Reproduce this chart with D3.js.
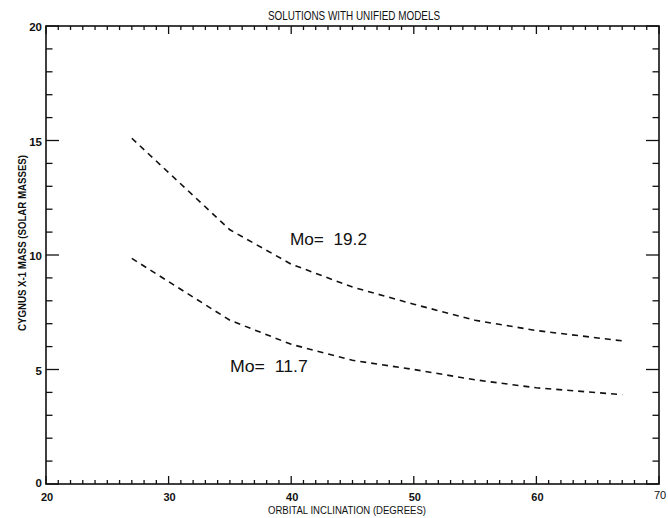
<!DOCTYPE html>
<html><head><meta charset="utf-8">
<script src="https://cdn.jsdelivr.net/npm/d3@7"></script>
<style>body{margin:0;background:#fff}svg{display:block}</style>
</head><body>
<svg id="chart" width="668" height="518"></svg>
<script>
// ---- data ----
const inclination = [27, 35, 40, 45, 50, 55, 60, 67];
const massHigh = [15.1, 11.1, 9.6, 8.6, 7.85, 7.15, 6.7, 6.25];   // Mo = 19.2
const massLow  = [9.85, 7.15, 6.1, 5.4, 5.0, 4.55, 4.2, 3.9];     // Mo = 11.7
const seriesLabels = ["Mo=  19.2", "Mo=  11.7"];
const seriesLabelPos = [[39.9, 10.44], [35.0, 4.87]]; // [inclination, mass] anchor of label text
const xTickLabels = [20, 30, 40, 50, 60, 70];
const yTickLabels = [0, 5, 10, 15, 20];
const title = "SOLUTIONS WITH UNIFIED MODELS";
const xTitle = "ORBITAL INCLINATION (DEGREES)";
const yTitle = "CYGNUS X-1 MASS (SOLAR MASSES)";

const svg = d3.select("#chart");
const L = 46, R = 659, T = 26, B = 484;
const x = d3.scaleLinear().domain([20, 70]).range([L, R]);
const y = d3.scaleLinear().domain([0, 20]).range([B, T]);
const ink = "#111";

// frame
svg.append("rect").attr("x", L).attr("y", T).attr("width", R - L).attr("height", B - T)
  .attr("fill", "none").attr("stroke", ink).attr("stroke-width", 1.6);

// ticks (inward)
const xMinor = d3.range(20, 71, 1);
const yMinor = d3.range(0, 21, 1);
const tg = svg.append("g").attr("stroke", ink).attr("stroke-width", 1.3);
xMinor.forEach(v => {
  const major = v % 10 === 0;
  const len = major ? 8 : 4;
  tg.append("line").attr("x1", x(v)).attr("x2", x(v)).attr("y1", B).attr("y2", B - len);
  tg.append("line").attr("x1", x(v)).attr("x2", x(v)).attr("y1", T).attr("y2", T + len);
});
yMinor.forEach(v => {
  const major = v % 5 === 0;
  const len = major ? 13 : 6.5;
  tg.append("line").attr("y1", y(v)).attr("y2", y(v)).attr("x1", L).attr("x2", L + len);
  tg.append("line").attr("y1", y(v)).attr("y2", y(v)).attr("x1", R).attr("x2", R - len);
});

const font = "'Liberation Sans', Arial, Helvetica, sans-serif";

// x tick labels
svg.append("g").selectAll("text").data(xTickLabels).join("text")
  .attr("x", d => x(d) + 1).attr("y", d => d === 70 ? 499 : 501)
  .attr("text-anchor", "middle").attr("font-family", font).attr("font-size", 11)
  .attr("font-weight", d => d === 70 ? "normal" : "bold").attr("fill", ink)
  .text(d => d);

// y tick labels
svg.append("g").selectAll("text").data(yTickLabels).join("text")
  .attr("x", 42).attr("y", d => y(d) + (d === 0 ? 3 : 5))
  .attr("text-anchor", "end").attr("font-family", font).attr("font-size", 11.5)
  .attr("font-weight", "bold").attr("fill", ink)
  .text(d => d);

// titles
svg.append("text").attr("x", 354).attr("y", 20).attr("text-anchor", "middle")
  .attr("font-family", font).attr("font-size", 12).attr("fill", ink)
  .attr("textLength", 172).attr("lengthAdjust", "spacingAndGlyphs").text(title);
svg.append("text").attr("x", 347).attr("y", 514).attr("text-anchor", "middle")
  .attr("font-family", font).attr("font-size", 10).attr("fill", ink)
  .attr("textLength", 158).attr("lengthAdjust", "spacingAndGlyphs").text(xTitle);
svg.append("text").attr("transform", "translate(26,243) rotate(-90)").attr("text-anchor", "middle")
  .attr("font-family", font).attr("font-size", 11).attr("font-weight", "bold").attr("fill", ink)
  .attr("textLength", 176).attr("lengthAdjust", "spacingAndGlyphs").text(yTitle);

// curves
const line = d3.line().x(d => x(d[0])).y(d => y(d[1]));
[massHigh, massLow].forEach(vals => {
  svg.append("path").datum(inclination.map((v, i) => [v, vals[i]]))
    .attr("d", line).attr("fill", "none").attr("stroke", ink)
    .attr("stroke-width", 1.6).attr("stroke-dasharray", "6,5");
});

// series labels
svg.append("g").selectAll("text").data(seriesLabels).join("text")
  .attr("x", (d, i) => x(seriesLabelPos[i][0])).attr("y", (d, i) => y(seriesLabelPos[i][1]))
  .attr("font-family", font).attr("font-size", 16).attr("fill", ink)
  .attr("xml:space", "preserve").style("white-space", "pre")
  .attr("textLength", (d, i) => i === 0 ? 77 : 78).attr("lengthAdjust", "spacingAndGlyphs")
  .text(d => d);
</script>
</body></html>
